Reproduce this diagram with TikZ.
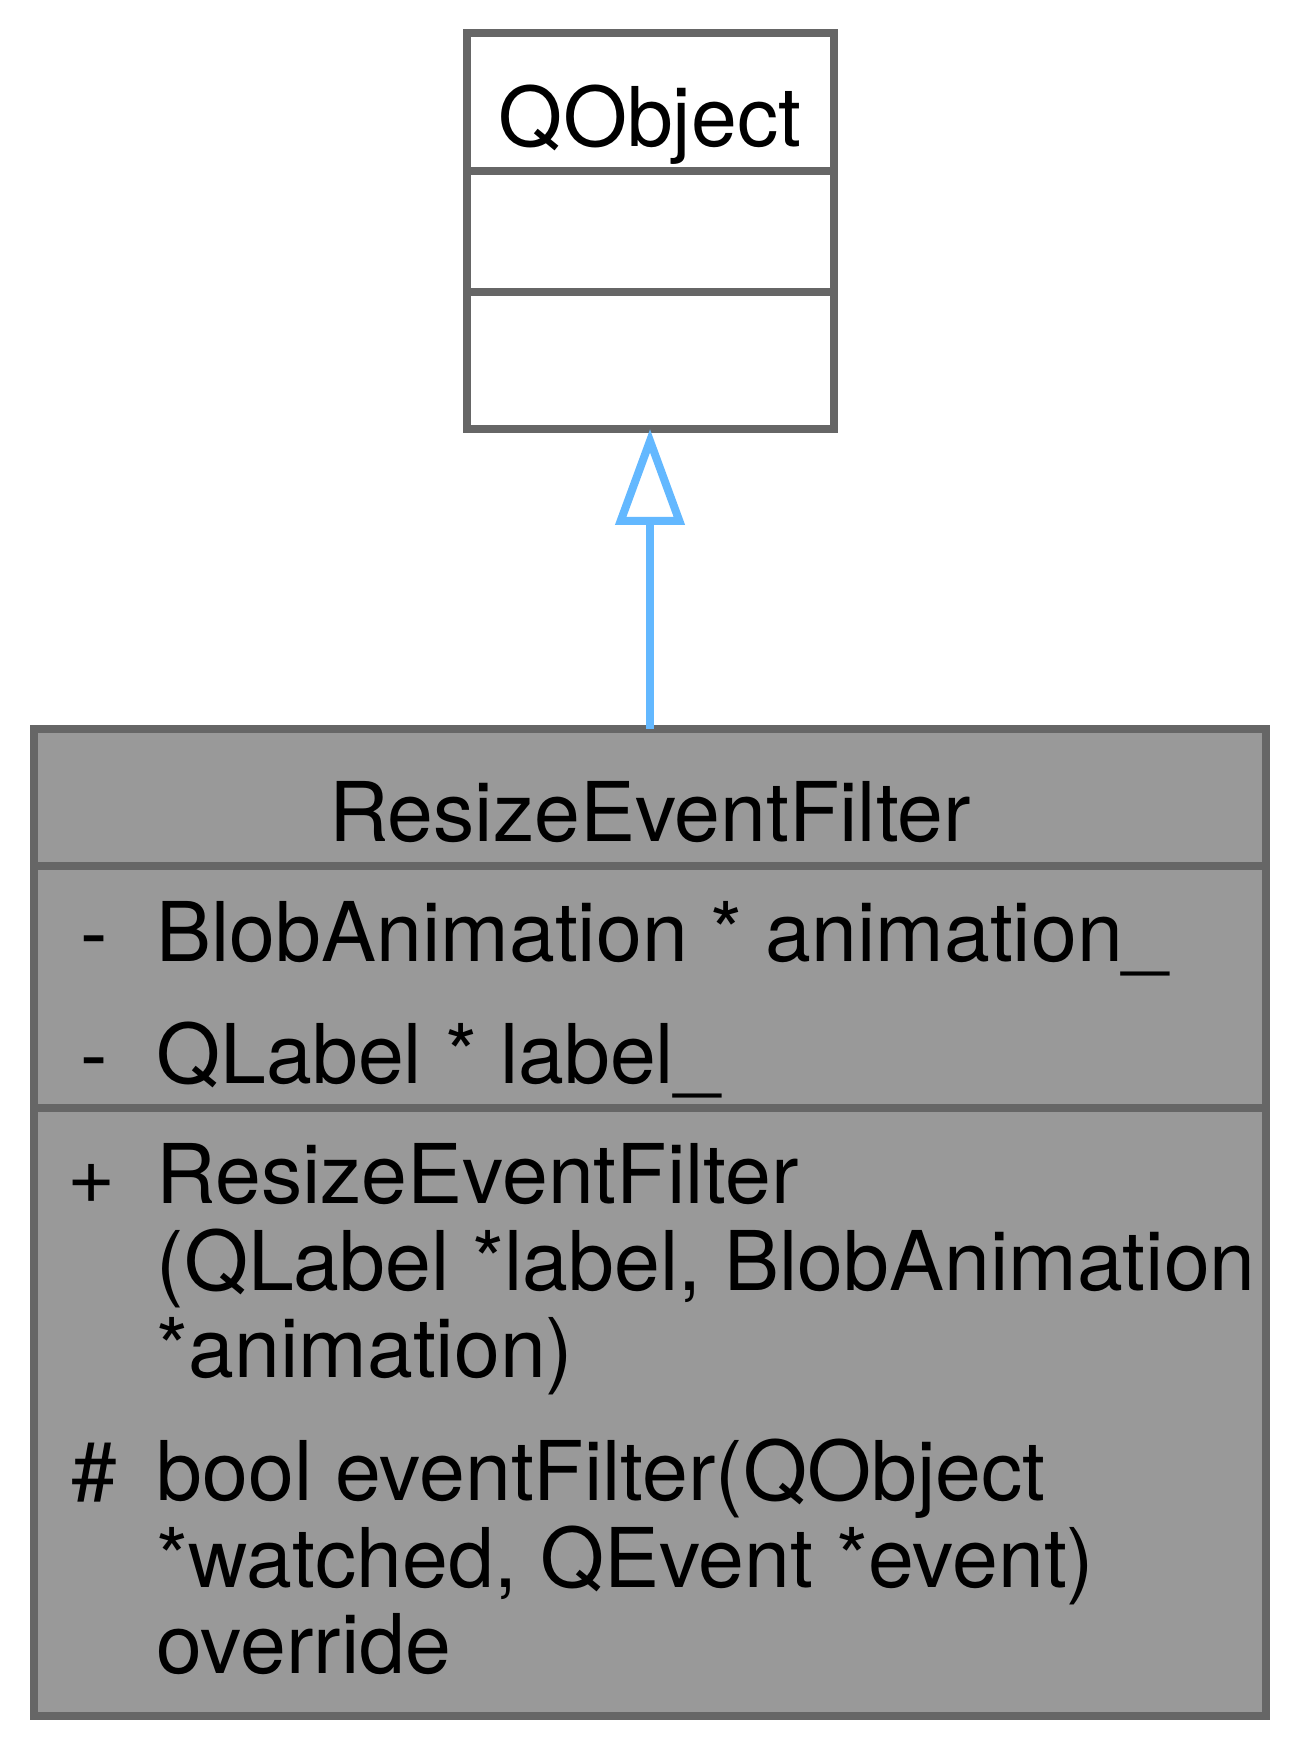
\documentclass[tikz,border=0pt]{standalone}
\usepackage{fontspec}
\setmainfont{TeX Gyre Heros}
\usetikzlibrary{arrows.meta}
\definecolor{boxedge}{HTML}{666666}
\definecolor{boxfill}{HTML}{999999}
\definecolor{inheritblue}{HTML}{63B8FF}
\tikzset{
  classbox/.style={rectangle, draw=boxedge, line width=1pt, outer sep=0pt, inner sep=0pt},
  baseclass/.style={classbox, fill=white, minimum width=45.875pt, minimum height=49.5pt},
  mainclass/.style={classbox, fill=boxfill, minimum width=154pt, minimum height=123.375pt},
  compartment/.style={boxedge, line width=1pt},
  classname/.style={anchor=base, inner sep=0pt, font=\fontsize{10.3}{12}\selectfont},
  visibility/.style={anchor=base, inner sep=0pt, font=\fontsize{10.3}{12}\selectfont},
  member/.style={anchor=base west, inner sep=0pt, font=\fontsize{10.3}{12}\selectfont},
  inherit/.style={inheritblue, line width=1pt, -{Triangle[open, length=12pt, width=8.5pt]}}
}
\begin{document}
\begin{tikzpicture}[x=0.125pt, y=-0.125pt]
  \useasboundingbox (0,0) rectangle (1300,1750);
  \node[baseclass] (qobject) at (650,231) {};
  \node[mainclass] (filter) at (650,1222.5) {};

  \draw[compartment] (qobject.west |- 0,170.7) -- (qobject.east |- 0,170.7);
  \draw[compartment] (qobject.west |- 0,291.7) -- (qobject.east |- 0,291.7);
  \draw[compartment] (filter.west |- 0,866) -- (filter.east |- 0,866);
  \draw[compartment] (filter.west |- 0,1108) -- (filter.east |- 0,1108);

  \node[classname] (qobjectname) at (650,147) {QObject};
  \node[classname] (filtername) at (650,842) {ResizeEventFilter};

  \node[visibility] (vis1) at (94,962) {-};
  \node[member] (attr1) at (155,962) {BlobAnimation * animation\_};
  \node[visibility] (vis2) at (94,1083) {-};
  \node[member] (attr2) at (155,1083) {QLabel * label\_};

  \node[visibility] (vis3) at (92,1203) {+};
  \node[member] (ctor1) at (155,1203) {ResizeEventFilter};
  \node[member] (ctor2) at (155,1290) {(QLabel *label, BlobAnimation};
  \node[member] (ctor3) at (155,1377) {*animation)};
  \node[visibility] (vis4) at (94,1500) {\#};
  \node[member] (meth1) at (155,1500) {bool eventFilter(QObject};
  \node[member] (meth2) at (155,1587) {*watched, QEvent *event)};
  \node[member] (meth3) at (155,1673) {override};

  \draw[inherit] (filter) -- (qobject);
\end{tikzpicture}
\end{document}
